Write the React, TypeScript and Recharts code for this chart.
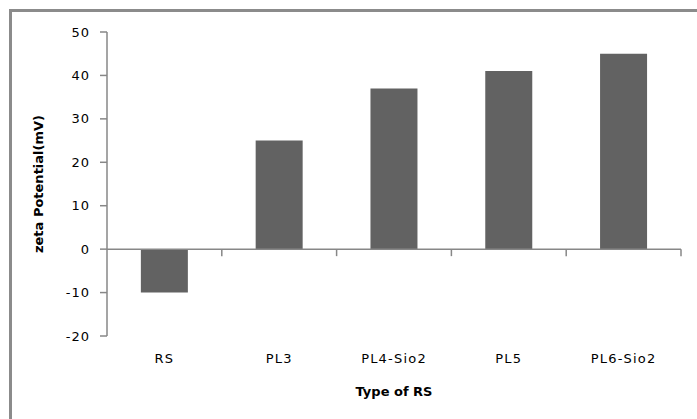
import React from 'react'
import { BarChart, Bar, XAxis, YAxis, ReferenceLine } from 'recharts'

const categories = ['RS', 'PL3', 'PL4-Sio2', 'PL5', 'PL6-Sio2']
const zetaValues = [-10, 25, 37, 41, 45]
const yTicks = [-20, -10, 0, 10, 20, 30, 40, 50]

const data = categories.map((name, i) => ({ name, zeta: zetaValues[i] }))

const axisColor = '#878787'
const font = '"DejaVu Sans", sans-serif'

// zero line drawn as the category axis, with tick marks at the category boundaries
function ZeroAxis(props: any) {
    const { x1, y1, x2 } = props
    const n = categories.length
    const step = (x2 - x1) / n
    return (
        <g>
            <line x1={x1} y1={y1} x2={x2} y2={y1} stroke={axisColor} strokeWidth={1.5} />
            {categories.map((_, i) => {
                const x = x1 + step * (i + 1)
                return <line key={i} x1={x} y1={y1} x2={x} y2={y1 + 7} stroke={axisColor} strokeWidth={1.5} />
            })}
        </g>
    )
}

export default function App() {
    return (
        <div style={{ position: 'absolute', left: 0, top: 0, width: 697, height: 419, overflow: 'hidden', background: '#fff' }}>
            <div
                style={{
                    position: 'absolute',
                    left: 9,
                    top: 9,
                    width: 800,
                    height: 500,
                    borderLeft: '3px solid #8b8b8b',
                    borderTop: '3px solid #8b8b8b',
                }}
            />
            <div style={{ position: 'absolute', left: 0, top: 0 }}>
                <BarChart
                    width={697}
                    height={419}
                    data={data}
                    margin={{ top: 32, right: 16, left: 0, bottom: 0 }}
                    barCategoryGap="29.5%"
                >
                    <XAxis
                        dataKey="name"
                        height={83}
                        axisLine={false}
                        tickLine={false}
                        tickMargin={12}
                        tick={{ fill: '#000', fontSize: 13, fontFamily: font, letterSpacing: 1.2 }}
                        label={{
                            value: 'Type of RS',
                            position: 'insideBottom',
                            offset: 23,
                            style: { fill: '#000', fontSize: 13, fontWeight: 'bold', fontFamily: font },
                        }}
                    />
                    <YAxis
                        width={107}
                        domain={[-20, 50]}
                        ticks={yTicks}
                        interval={0}
                        tickSize={7}
                        tickMargin={10}
                        stroke={axisColor}
                        axisLine={{ stroke: axisColor, strokeWidth: 1.5 }}
                        tickLine={{ stroke: axisColor, strokeWidth: 1.5 }}
                        tick={{ fill: '#000', fontSize: 13, fontFamily: font, letterSpacing: 1 }}
                        label={{
                            value: 'zeta Potential(mV)',
                            angle: -90,
                            position: 'insideLeft',
                            offset: 38,
                            style: { textAnchor: 'middle', fill: '#000', fontSize: 13, fontWeight: 'bold', fontFamily: font },
                        }}
                    />
                    <Bar dataKey="zeta" fill="#626262" isAnimationActive={false} />
                    <ReferenceLine y={0} shape={ZeroAxis} />
                </BarChart>
            </div>
        </div>
    )
}
